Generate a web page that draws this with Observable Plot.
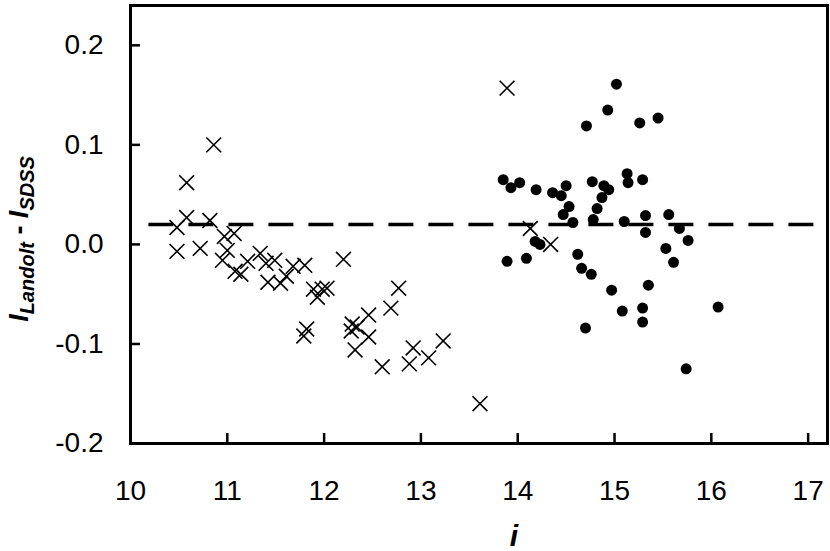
<!DOCTYPE html>
<html>
<head>
<meta charset="utf-8">
<script src="https://cdn.jsdelivr.net/npm/d3@7"></script>
<script src="https://cdn.jsdelivr.net/npm/@observablehq/plot@0.6"></script>
<style>
  html, body { margin: 0; padding: 0; background: #fff; }
  svg { display: block; }
</style>
</head>
<body>
<div id="chart"></div>
<script>
// Crosses (first sample)
const crossI = [10.48, 10.48, 10.58, 10.58, 10.72, 10.82, 10.86, 10.95, 10.97, 11.00,
  11.07, 11.08, 11.14, 11.21, 11.34, 11.40, 11.42, 11.49, 11.55, 11.61,
  11.68, 11.79, 11.80, 11.82, 11.89, 11.93, 11.98, 12.03, 12.20, 12.28,
  12.29, 12.32, 12.34, 12.46, 12.46, 12.60, 12.69, 12.77, 12.88, 12.92,
  13.08, 13.23, 13.61, 13.89, 14.13, 14.34];
const crossD = [0.017, -0.007, 0.062, 0.027, -0.004, 0.024, 0.100, -0.016, 0.008, -0.006,
  0.011, -0.027, -0.030, -0.017, -0.009, -0.019, -0.038, -0.016, -0.039, -0.032,
  -0.022, -0.092, -0.021, -0.085, -0.045, -0.053, -0.045, -0.044, -0.015, -0.087,
  -0.080, -0.106, -0.083, -0.071, -0.093, -0.123, -0.064, -0.044, -0.120, -0.104,
  -0.114, -0.097, -0.160, 0.157, 0.016, 0.000];

// Filled dots (second sample)
const dotI = [13.85, 13.89, 13.93, 14.02, 14.09, 14.18, 14.19, 14.23, 14.36, 14.45,
  14.47, 14.50, 14.53, 14.57, 14.62, 14.66, 14.70, 14.71, 14.76, 14.77,
  14.78, 14.82, 14.87, 14.89, 14.93, 14.94, 14.97, 15.02, 15.08, 15.10,
  15.13, 15.14, 15.26, 15.29, 15.29, 15.29, 15.32, 15.32, 15.35, 15.45,
  15.53, 15.56, 15.61, 15.67, 15.74, 15.76, 16.07];
const dotD = [0.065, -0.017, 0.057, 0.062, -0.014, 0.003, 0.055, 0.000, 0.052, 0.049,
  0.030, 0.059, 0.038, 0.022, -0.010, -0.024, -0.084, 0.119, -0.030, 0.063,
  0.025, 0.036, 0.047, 0.059, 0.135, 0.055, -0.046, 0.161, -0.067, 0.023,
  0.071, 0.062, 0.122, 0.065, -0.064, -0.078, 0.029, 0.012, -0.041, 0.127,
  -0.004, 0.030, -0.018, 0.016, -0.125, 0.004, -0.063];

// Dashed reference line
const offsetLevel = 0.02;
const dashExtent = [10.19, 17.08];

// Axes
const xDomain = [10, 17.2];
const yDomain = [-0.2, 0.24];
const xTicks = [10, 11, 12, 13, 14, 15, 16, 17];
const yTicks = [-0.2, -0.1, 0.0, 0.1, 0.2];
const xTitle = "i";
const yTitleParts = [["I", false], ["Landolt", true], [" - ", false], ["I", false], ["SDSS", true]];

const crosses = crossI.map((v, k) => ({i: v, d: crossD[k]}));
const dots = dotI.map((v, k) => ({i: v, d: dotD[k]}));

const W = 830, H = 551;
const mL = 130, mR = 3, mT = 5, mB = 108;

const plot = Plot.plot({
  width: W,
  height: H,
  marginLeft: mL,
  marginRight: mR,
  marginTop: mT,
  marginBottom: mB,
  style: {fontFamily: "'Liberation Sans', Arial, Helvetica, sans-serif", background: "#fff", color: "#000"},
  x: {domain: xDomain, label: null},
  y: {domain: yDomain, label: null},
  marks: [
    Plot.ruleY([offsetLevel], {x1: dashExtent[0], x2: dashExtent[1], stroke: "#000", strokeWidth: 3.5, strokeDasharray: "25,15"}),
    Plot.dot(crosses, {x: "i", y: "d", symbol: "times", r: 6.8, stroke: "#000", strokeWidth: 1.6}),
    Plot.dot(dots, {x: "i", y: "d", r: 5.5, fill: "#000", stroke: "none"}),
    Plot.tickX(xTicks, {x: d => d, stroke: "#000", strokeWidth: 2.5, insetTop: (H - mT - mB) - 10}),
    Plot.tickY(yTicks, {y: d => d, stroke: "#000", strokeWidth: 2.5, insetRight: (W - mL - mR) - 10}),
    Plot.frame({stroke: "#000", strokeWidth: 3}),
    Plot.axisX(xTicks, {tickSize: 0, tickPadding: 37, fontSize: 28, tickFormat: d => String(d)}),
    Plot.axisY(yTicks, {tickSize: 0, tickPadding: 27, fontSize: 28, tickFormat: d => d.toFixed(1)})
  ]
});

document.getElementById("chart").appendChild(plot);

const svg = d3.select(plot);
// x title
svg.append("text")
  .attr("x", 514).attr("y", 546)
  .attr("text-anchor", "middle")
  .attr("font-size", 30).attr("font-weight", "bold").attr("font-style", "italic")
  .attr("fill", "#000")
  .text(xTitle);

// y title with subscripts
const yt = svg.append("text")
  .attr("transform", "translate(28,239) rotate(-90)")
  .attr("text-anchor", "middle")
  .attr("font-weight", "bold").attr("font-style", "italic")
  .attr("fill", "#000");
yTitleParts.forEach(([t, sub]) => {
  const ts = yt.append("tspan").text(t)
    .attr("font-size", sub ? 20 : 27)
    .attr("baseline-shift", sub ? "-28%" : null);
  if (t.trim() === "-") ts.attr("font-style", "normal");
});
</script>
</body>
</html>
